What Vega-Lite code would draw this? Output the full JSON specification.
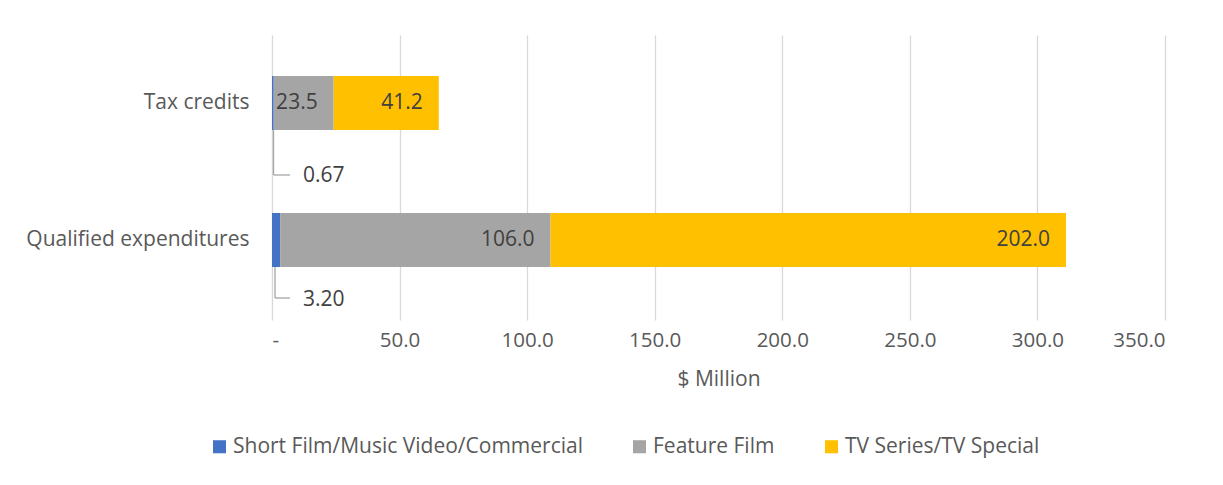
{
  "$schema": "https://vega.github.io/schema/vega-lite/v6.json",
  "width": 893,
  "height": 285,
  "autosize": "none",
  "padding": {"left": 272, "top": 35, "right": 58, "bottom": 165},
  "background": "white",
  "config": {
    "font": "Open Sans",
    "view": {"stroke": null},
    "axis": {"labelFont": "Open Sans", "titleFont": "Open Sans"},
    "legend": {"labelFont": "Open Sans"}
  },
  "data": {
    "values": [
      {"cat": "Tax credits", "series": "Short Film/Music Video/Commercial", "value": 0.67, "order": 1},
      {"cat": "Tax credits", "series": "Feature Film", "value": 23.5, "order": 2},
      {"cat": "Tax credits", "series": "TV Series/TV Special", "value": 41.2, "order": 3},
      {"cat": "Qualified expenditures", "series": "Short Film/Music Video/Commercial", "value": 3.2, "order": 1},
      {"cat": "Qualified expenditures", "series": "Feature Film", "value": 106.0, "order": 2},
      {"cat": "Qualified expenditures", "series": "TV Series/TV Special", "value": 202.0, "order": 3}
    ]
  },
  "transform": [
    {"stack": "value", "groupby": ["cat"], "sort": [{"field": "order", "order": "ascending"}], "as": ["v0", "v1"]}
  ],
  "encoding": {
    "y": {
      "field": "cat",
      "type": "nominal",
      "sort": ["Tax credits", "Qualified expenditures"],
      "scale": {"paddingInner": 0.606, "paddingOuter": 0.343, "align": 0.436},
      "axis": {"title": null, "domain": false, "ticks": false, "grid": false, "labelPadding": 23, "labelFontSize": 21, "labelColor": "#595959", "labelLimit": 500}
    }
  },
  "layer": [
    {
      "mark": {"type": "bar"},
      "encoding": {
        "x": {
          "field": "v0",
          "type": "quantitative",
          "scale": {"domain": [0, 350], "nice": false, "zero": true},
          "axis": {
            "values": [0, 50, 100, 150, 200, 250, 300, 350],
            "labelExpr": "datum.value == 0 ? '-' : format(datum.value, '.1f')",
            "grid": true, "gridColor": "#d9d9d9", "gridWidth": 1.3,
            "domain": false, "ticks": false,
            "labelPadding": 10, "labelFontSize": 20.5, "labelColor": "#595959",
            "title": "$ Million", "titleFontSize": 21, "titleFontWeight": "normal", "titleColor": "#595959", "titlePadding": 18
          }
        },
        "x2": {"field": "v1"},
        "color": {
          "field": "series",
          "type": "nominal",
          "scale": {"domain": ["Short Film/Music Video/Commercial", "Feature Film", "TV Series/TV Special"], "range": ["#4472C4", "#A5A5A5", "#FFC000"]},
          "legend": {
            "title": null, "orient": "none", "direction": "horizontal", "legendX": -63, "legendY": 401,
            "symbolType": "square", "symbolSize": 170, "symbolStrokeWidth": 0, "labelFontSize": 21, "labelColor": "#595959",
            "labelOffset": 3, "columnPadding": 46, "labelLimit": 600
          }
        }
      }
    },
    {
      "transform": [{"filter": "datum.order > 1"}],
      "mark": {"type": "text", "align": "right", "baseline": "middle", "dx": -16, "fontSize": 21, "color": "#404040"},
      "encoding": {
        "x": {"field": "v1", "type": "quantitative"},
        "text": {"field": "value", "type": "quantitative", "format": ".1f"}
      }
    },
    {
      "transform": [{"filter": "datum.order == 1 && datum.cat == 'Tax credits'"}],
      "mark": {"type": "rule", "color": "#a6a6a6", "strokeWidth": 1.3, "xOffset": 1.5, "yOffset": 27, "y2Offset": 72},
      "encoding": {"x": {"datum": 0, "type": "quantitative"}, "y2": {"field": "cat"}}
    },
    {
      "transform": [{"filter": "datum.order == 1 && datum.cat == 'Tax credits'"}],
      "mark": {"type": "rule", "color": "#a6a6a6", "strokeWidth": 1.3, "xOffset": 1.5, "x2Offset": 18, "yOffset": 72},
      "encoding": {"x": {"datum": 0, "type": "quantitative"}, "x2": {"datum": 0}}
    },
    {
      "transform": [{"filter": "datum.order == 1 && datum.cat == 'Tax credits'"}],
      "mark": {"type": "text", "align": "left", "baseline": "middle", "dx": 31, "dy": 73, "fontSize": 21, "color": "#404040"},
      "encoding": {"x": {"datum": 0, "type": "quantitative"}, "text": {"field": "value", "type": "quantitative", "format": ".2f"}}
    },
    {
      "transform": [{"filter": "datum.order == 1 && datum.cat == 'Qualified expenditures'"}],
      "mark": {"type": "rule", "color": "#a6a6a6", "strokeWidth": 1.3, "xOffset": 3, "yOffset": 27, "y2Offset": 58},
      "encoding": {"x": {"datum": 0, "type": "quantitative"}, "y2": {"field": "cat"}}
    },
    {
      "transform": [{"filter": "datum.order == 1 && datum.cat == 'Qualified expenditures'"}],
      "mark": {"type": "rule", "color": "#a6a6a6", "strokeWidth": 1.3, "xOffset": 3, "x2Offset": 18, "yOffset": 58},
      "encoding": {"x": {"datum": 0, "type": "quantitative"}, "x2": {"datum": 0}}
    },
    {
      "transform": [{"filter": "datum.order == 1 && datum.cat == 'Qualified expenditures'"}],
      "mark": {"type": "text", "align": "left", "baseline": "middle", "dx": 31, "dy": 60, "fontSize": 21, "color": "#404040"},
      "encoding": {"x": {"datum": 0, "type": "quantitative"}, "text": {"field": "value", "type": "quantitative", "format": ".2f"}}
    }
  ]
}
